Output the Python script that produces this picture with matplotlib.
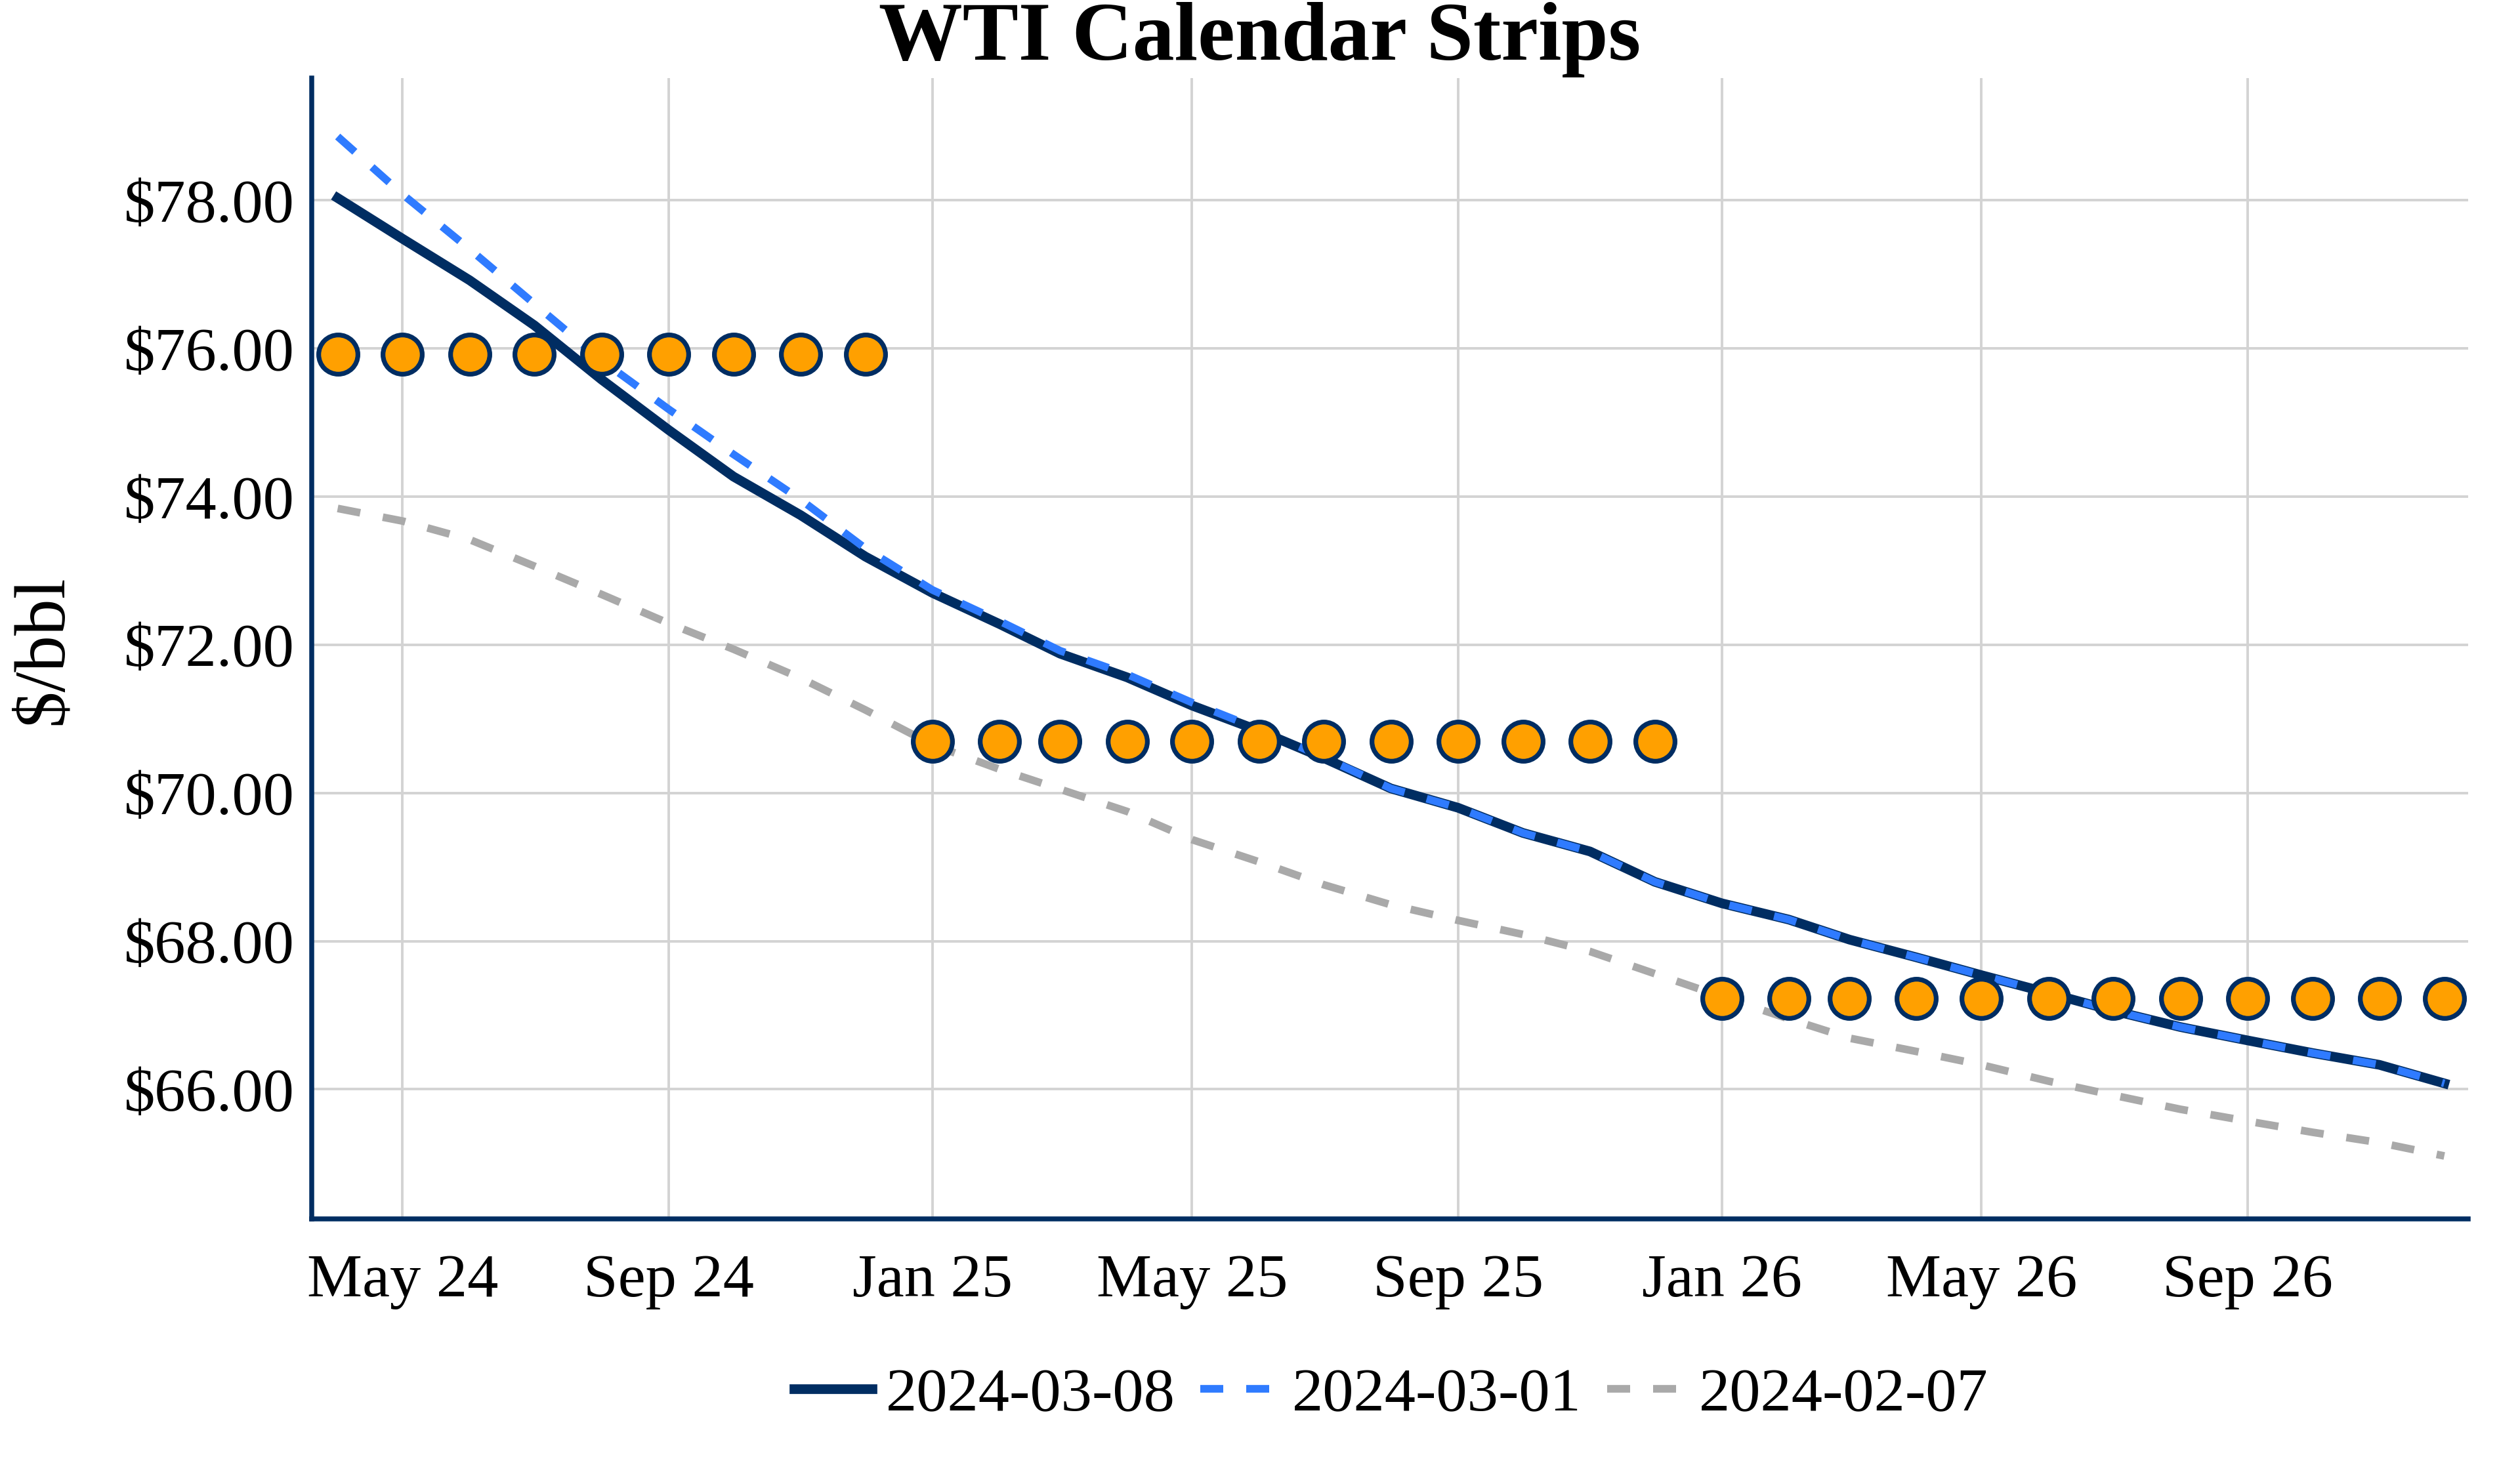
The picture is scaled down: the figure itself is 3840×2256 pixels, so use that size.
import datetime as dt
import matplotlib
matplotlib.use("Agg")
import matplotlib.pyplot as plt
import matplotlib.dates as mdates
from matplotlib.ticker import FuncFormatter

plt.rcParams['font.family'] = ['Liberation Serif', 'DejaVu Serif']
plt.rcParams['text.parse_math'] = False

# monthly contracts Apr 2024 .. Dec 2026
months = [dt.date(2024 + (3 + i) // 12, (3 + i) % 12 + 1, 1) for i in range(33)]

curve_0308 = [78.03, 77.48, 76.92, 76.31, 75.58, 74.90, 74.27, 73.75, 73.19,
              72.70, 72.28, 71.88, 71.56, 71.18, 70.84, 70.47, 70.06, 69.80, 69.46, 69.21, 68.80,
              68.51, 68.29, 68.02, 67.78, 67.54, 67.30, 67.06, 66.84, 66.66, 66.49, 66.33, 66.08]
curve_0301 = [78.86, 78.08, 77.34, 76.60, 75.84, 75.18, 74.57, 73.96, 73.30,
              72.74, 72.32, 71.92, 71.60, 71.22, 70.86, 70.48, 70.06, 69.80, 69.46, 69.21, 68.80,
              68.51, 68.29, 68.02, 67.78, 67.54, 67.30, 67.06, 66.84, 66.66, 66.49, 66.33, 66.08]
curve_0207 = [73.84, 73.67, 73.42, 73.06, 72.68, 72.29, 71.94, 71.55, 71.12,
              70.65, 70.32, 70.05, 69.75, 69.37, 69.07, 68.76, 68.49, 68.28, 68.09, 67.86, 67.56,
              67.25, 66.95, 66.69, 66.51, 66.33, 66.11, 65.92, 65.73, 65.57, 65.42, 65.28, 65.10]

# calendar strip averages
strip_names = ['Cal 24', 'Cal 25', 'Cal 26']
strip_values = [75.92, 70.70, 67.23]
strip_months = [9, 12, 12]

labels = ['2024-03-08', '2024-03-01', '2024-02-07']

NAVY = '#002D62'
BLUE = '#2F7BFF'
GRAY = '#A9A9A9'
ORANGE = '#FFA000'

fig = plt.figure(figsize=(19.2, 11.28), dpi=200)
ax = fig.add_axes([0.1237, 0.1764, 0.8557, 0.7709])

ax.plot(months, curve_0308, color=NAVY, lw=5.3, solid_joinstyle='round', label=labels[0], zorder=3)
ax.plot(months, curve_0301, color=BLUE, lw=4.2, dashes=(3, 3), dash_capstyle='butt',
        label=labels[1], zorder=4)
ax.plot(months, curve_0207, color=GRAY, lw=4.2, dashes=(3, 3), dash_capstyle='butt',
        label=labels[2], zorder=4)

start = 0
for val, n in zip(strip_values, strip_months):
    ax.plot(months[start:start + n], [val] * n, linestyle='none', marker='o', ms=21.5,
            mfc=ORANGE, mec=NAVY, mew=2.6, zorder=5)
    start += n

ax.set_xlim(dt.date(2024, 3, 20), dt.date(2026, 12, 12))
ax.set_ylim(64.25, 79.65)

ax.xaxis.set_major_locator(mdates.MonthLocator(bymonth=[1, 5, 9]))
ax.xaxis.set_major_formatter(mdates.DateFormatter('%b %y'))
ax.set_yticks([66, 68, 70, 72, 74, 76, 78])
ax.yaxis.set_major_formatter(FuncFormatter(lambda v, p: '$%.2f' % v))
ax.tick_params(axis='both', length=0, labelsize=34)
ax.tick_params(axis='x', pad=19)
ax.tick_params(axis='y', pad=9.5)

ax.grid(True, color='#D3D3D3', lw=1.4)
ax.set_axisbelow(True)
for s in ['top', 'right']:
    ax.spines[s].set_visible(False)
for s in ['left', 'bottom']:
    ax.spines[s].set_color(NAVY)
    ax.spines[s].set_linewidth(2.7)

fig.text(0.0175, 0.561, '$/bbl', rotation=90, ha='center', va='center', fontsize=40)
fig.text(0.5, 0.9597, 'WTI Calendar Strips', ha='center', va='baseline',
         fontsize=46, fontweight='bold')

fig.legend(loc='center', bbox_to_anchor=(0.552, 0.057), ncol=3, frameon=False,
           fontsize=34, handlelength=1.26, handletextpad=0.22, columnspacing=0.41)

fig.savefig('out.png', dpi=200)
